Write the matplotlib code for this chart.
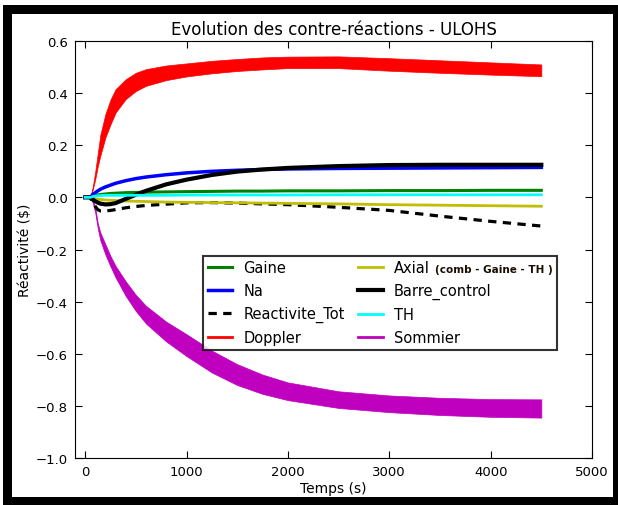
import numpy as np
import matplotlib
matplotlib.use('Agg')
import matplotlib.pyplot as plt
from matplotlib.patches import Rectangle
from matplotlib.offsetbox import TextArea, HPacker

# temps (s)
temps = [0, 50, 75, 100, 125, 150, 200, 250, 300, 400, 500, 600, 800, 1000,
         1250, 1500, 1750, 2000, 2500, 3000, 3500, 4000, 4500]

gaine = [0, 0, 0.004, 0.007, 0.009, 0.011, 0.013, 0.015, 0.016, 0.018, 0.019, 0.02, 0.021, 0.022,
         0.023, 0.024, 0.024, 0.025, 0.025, 0.026, 0.026, 0.027, 0.027]
na = [0, 0, 0.01, 0.018, 0.025, 0.031, 0.04, 0.047, 0.054, 0.064, 0.072, 0.078, 0.087, 0.094,
      0.1, 0.104, 0.107, 0.109, 0.111, 0.112, 0.113, 0.114, 0.115]
reac_tot = [0, 0, -0.02, -0.035, -0.047, -0.052, -0.052, -0.05, -0.047, -0.04, -0.035, -0.031, -0.026, -0.021,
            -0.02, -0.022, -0.025, -0.028, -0.038, -0.05, -0.072, -0.092, -0.11]
doppler_haut = [0, 0, 0.04, 0.10, 0.17, 0.24, 0.32, 0.375, 0.415, 0.453, 0.478, 0.492, 0.506, 0.514,
                0.524, 0.531, 0.537, 0.540, 0.541, 0.534, 0.526, 0.518, 0.51]
doppler_bas = [0, 0, 0.03, 0.07, 0.12, 0.16, 0.23, 0.28, 0.325, 0.377, 0.408, 0.428, 0.45, 0.464,
               0.476, 0.485, 0.491, 0.496, 0.496, 0.486, 0.478, 0.471, 0.465]
axial = [0, 0, -0.003, -0.005, -0.007, -0.008, -0.01, -0.011, -0.012, -0.014, -0.015, -0.016, -0.018, -0.019,
         -0.02, -0.021, -0.022, -0.023, -0.025, -0.028, -0.03, -0.032, -0.034]
barre = [0, 0, -0.008, -0.015, -0.02, -0.024, -0.027, -0.026, -0.022, -0.006, 0.01, 0.025, 0.05, 0.068,
         0.086, 0.099, 0.107, 0.113, 0.12, 0.124, 0.125, 0.125, 0.125]
th = [0, 0, 0.003, 0.005, 0.006, 0.007, 0.008, 0.008, 0.008, 0.008, 0.008, 0.008, 0.008, 0.009,
      0.009, 0.009, 0.009, 0.009, 0.01, 0.01, 0.01, 0.01, 0.01]
sommier_haut = [0, 0, -0.010, -0.040, -0.100, -0.135, -0.180, -0.225, -0.263, -0.322, -0.374, -0.416, -0.477,
                -0.525, -0.588, -0.640, -0.680, -0.710, -0.744, -0.760, -0.769, -0.774, -0.775]
sommier_bas = [0, 0, -0.020, -0.060, -0.120, -0.165, -0.220, -0.265, -0.307, -0.378, -0.436, -0.484, -0.553,
               -0.609, -0.672, -0.720, -0.754, -0.778, -0.808, -0.824, -0.835, -0.842, -0.845]

magenta = '#bf00bf'

fig = plt.figure(figsize=(6.18, 5.06), dpi=100)
# cadre noir autour de la figure
fig.patches.append(Rectangle((3/618, 0), 615/618, 500/506, transform=fig.transFigure,
                             facecolor='black', edgecolor='none', zorder=-2))
fig.patches.append(Rectangle((12/618, 8/506), 601/618, 483/506, transform=fig.transFigure,
                             facecolor='white', edgecolor='none', zorder=-1))

ax = fig.add_axes([75/618, 1 - 459/506, 517/618, 417/506])

ax.plot(temps, gaine, color='green', lw=2.2, label='Gaine')
ax.plot(temps, na, color='blue', lw=2.5, label='Na')
ax.plot(temps, reac_tot, color='black', ls='--', dashes=(2.6, 2), lw=2.3, label='Reactivite_Tot')
ax.fill_between(temps, doppler_bas, doppler_haut, color='red', lw=0.5, edgecolor='red')
ax.plot([], [], color='red', lw=2, label='Doppler')
ax.plot(temps, axial, color='#bfbf00', lw=2, label='Axial')
ax.plot(temps, barre, color='black', lw=3, label='Barre_control')
ax.plot(temps, th, color='cyan', lw=2, label='TH')
ax.fill_between(temps, sommier_bas, sommier_haut, color=magenta, lw=0.5, edgecolor=magenta)
ax.plot([], [], color=magenta, lw=2, label='Sommier')

ax.set_xlim(-100, 5000)
ax.set_ylim(-1.0, 0.6)
ax.set_xticks(range(0, 5001, 1000))
ax.set_yticks(np.arange(-1.0, 0.61, 0.2))
ax.tick_params(direction='in', top=True, right=True, labelsize=9.5, length=5, pad=5)

ax.set_title('Evolution des contre-réactions - ULOHS', fontsize=12, pad=5)
ax.set_xlabel('Temps (s)', fontsize=10, labelpad=2)
ax.set_ylabel(r'Réactivité (\$)', fontsize=10, labelpad=3)

leg = ax.legend(ncol=2, loc='upper left', bbox_to_anchor=(0.248, 0.485), fontsize=10.5,
                frameon=True, fancybox=False, borderpad=0.3, labelspacing=0.55,
                handlelength=1.7, handletextpad=0.75, columnspacing=0.9, borderaxespad=0)
leg.get_frame().set_edgecolor('black')
leg.get_frame().set_linewidth(1.5)

# petit texte en gras apres "Axial" dans la legende
for col in leg._legend_handle_box.get_children():
    for row in col.get_children():
        kids = row.get_children()
        if len(kids) == 2 and isinstance(kids[1], TextArea) and kids[1].get_text() == 'Axial':
            extra = TextArea('(comb - Gaine - TH )',
                             textprops=dict(fontsize=7.5, fontweight='bold', color='#1a0d00'))
            pack = HPacker(children=[kids[1], extra], sep=4, pad=0, align='baseline')
            pack.set_figure(fig)
            row._children[1] = pack

fig.savefig('out.png', dpi=100)
